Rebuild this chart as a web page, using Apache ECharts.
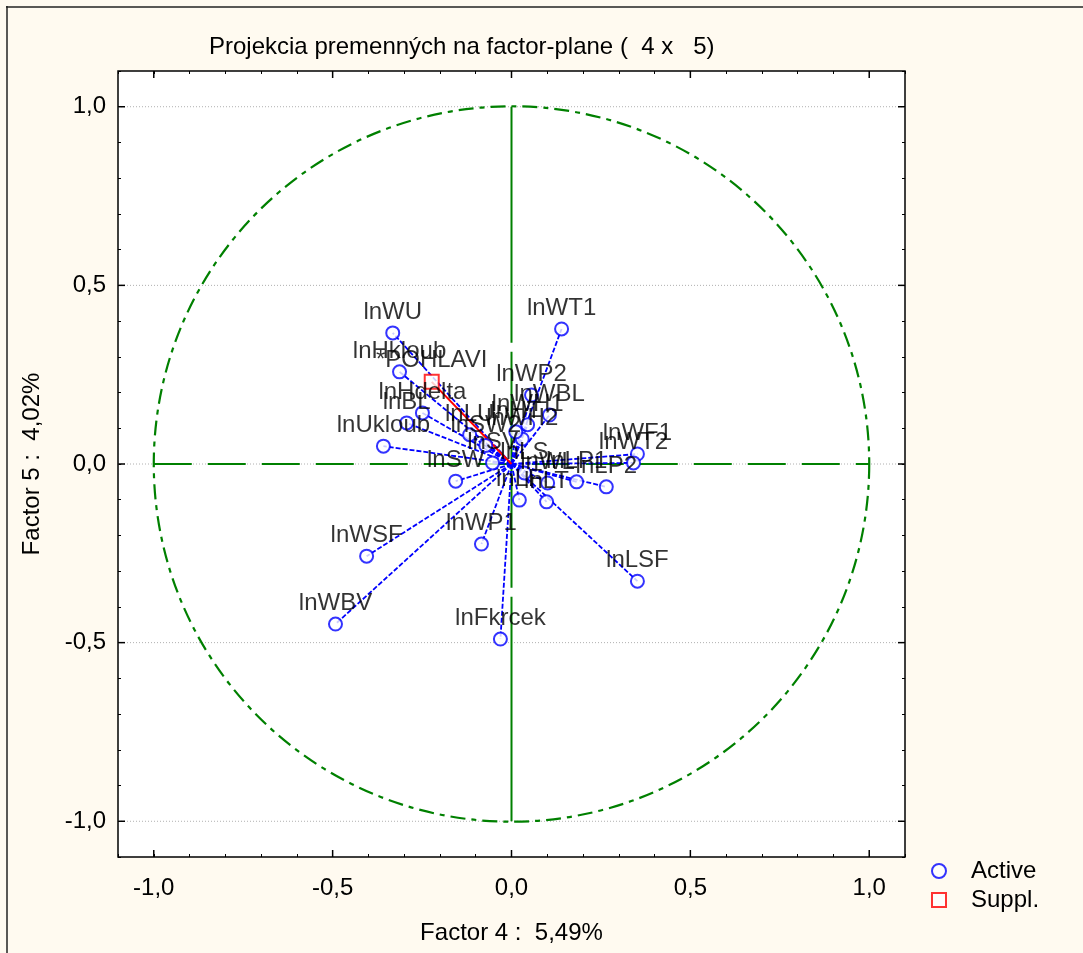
<!DOCTYPE html>
<html><head><meta charset="utf-8">
<script src="https://cdn.jsdelivr.net/npm/echarts@6/dist/echarts.min.js"></script>
<style>html,body{margin:0;padding:0;background:#fffaf0}#c{width:1083px;height:953px}</style>
</head><body><div id="c"></div>
<script>
// Active variables: loadings on Factor 4 (x) and Factor 5 (y)
const varNames = ['lnWU','lnHkloub','lnHdelta','lnBL','lnUkloub','lnLU','lnSW2','lnSW','lnSV',
  'lnWT1','lnWP2','lnWBL','lnWH1','lnWH2','lnHT','lnWF1','lnWT2','lnLS','lnWL','lnLP1','lnLP2',
  'lnLF','lnLT','lnWSF','lnWBV','lnWP1','lnFkrcek','lnLSF'];
const factor4 = [-0.332,-0.313,-0.249,-0.293,-0.358,-0.117,-0.072,-0.156,-0.053,
  0.140,0.056,0.106,0.045,0.030,0.012,0.352,0.341,0.036,0.101,0.182,0.265,
  0.022,0.098,-0.405,-0.492,-0.084,-0.031,0.352];
const factor5 = [0.367,0.258,0.143,0.115,0.050,0.082,0.052,-0.048,0.003,
  0.378,0.193,0.137,0.110,0.070,0.090,0.028,0.003,-0.025,-0.053,-0.050,-0.064,
  -0.101,-0.106,-0.258,-0.448,-0.224,-0.490,-0.328];
// Supplementary variables
const suppNames = ['*POHLAVI'];
const suppF4 = [-0.223];
const suppF5 = [0.230];
// Axis ticks
const majorTicks = [-1.0,-0.5,0.0,0.5,1.0];
const axisMin = -1.1, axisMax = 1.1, minorStep = 0.1;

const FONT = 'Liberation Sans, Arial, sans-serif';
const FS = 24;
const fmt = v => {
  if (Math.abs(v) < 1e-9) return '0,0';
  const isMajor = majorTicks.some(t => Math.abs(t - v) < 1e-6);
  return isMajor ? v.toFixed(1).replace('.', ',') : '';
};

const activeData = varNames.map((n,i)=>({name:n, value:[factor4[i], factor5[i]]}));
const suppData = suppNames.map((n,i)=>({name:n, value:[suppF4[i], suppF5[i]]}));
const activeVectors = varNames.map((n,i)=>({coords:[[0,0],[factor4[i],factor5[i]]]}));
const suppVectors = suppNames.map((n,i)=>({coords:[[0,0],[suppF4[i],suppF5[i]]]}));

const chart = echarts.init(document.getElementById('c'), null, {renderer:'canvas'});
const green = '#008000';
const minorTick = {inside:true, length:3, lineStyle:{color:'#000', width:1}};
chart.setOption({
  backgroundColor:'#fffaf0',
  animation:false,
  textStyle:{fontFamily:FONT},
  title:{text:'Projekcia premenných na factor-plane (  4 x   5)', left:204, top:30,
    textStyle:{fontFamily:FONT, fontSize:FS, fontWeight:'normal', color:'#000'}},
  graphic:[
    {type:'line', shape:{x1:6,y1:7,x2:1083,y2:7}, style:{stroke:'#222', lineWidth:1.5}},
    {type:'line', shape:{x1:7,y1:6,x2:7,y2:953}, style:{stroke:'#222', lineWidth:1.5}}
  ],
  legend:{orient:'vertical', left:926, top:854, itemWidth:14, itemHeight:14, itemGap:5,
    data:[{name:'Active', icon:'emptyCircle'},{name:'Suppl.', icon:'emptyRect'}],
    textStyle:{fontFamily:FONT, fontSize:FS, color:'#000', padding:[0,0,0,20]}},
  grid:{left:118, top:71, width:787, height:786, show:true, backgroundColor:'#fff',
    borderColor:'#000', borderWidth:1.5},
  xAxis:[{type:'value', min:axisMin, max:axisMax, interval:minorStep, position:'bottom',
      name:'Factor 4 :  5,49%', nameLocation:'middle', nameGap:64,
      nameTextStyle:{fontFamily:FONT, fontSize:FS, color:'#000'},
      axisLine:{show:false, onZero:false}, splitLine:{show:false},
      axisTick:minorTick,
      axisLabel:{formatter:fmt, margin:19, fontFamily:FONT, fontSize:FS, color:'#000', showMinLabel:true, showMaxLabel:true}},
    {type:'value', min:axisMin, max:axisMax, interval:minorStep, position:'top',
      axisLine:{show:false, onZero:false}, splitLine:{show:false}, axisLabel:{show:false},
      axisTick:minorTick}],
  yAxis:[{type:'value', min:axisMin, max:axisMax, interval:minorStep, position:'left',
      name:'Factor 5 :  4,02%', nameLocation:'middle', nameGap:74,
      nameTextStyle:{fontFamily:FONT, fontSize:FS, color:'#000'},
      axisLine:{show:false, onZero:false}, splitLine:{show:false},
      axisTick:minorTick,
      axisLabel:{formatter:fmt, margin:12, fontFamily:FONT, fontSize:FS, color:'#000'}},
    {type:'value', min:axisMin, max:axisMax, interval:minorStep, position:'right',
      axisLine:{show:false, onZero:false}, splitLine:{show:false}, axisLabel:{show:false},
      axisTick:minorTick}],
  series:[
    {type:'custom', name:'frame', silent:true, z:1, data:[[0,0]],
     renderItem:function(params, api){
       const ch = [];
       const o = api.coord([0,0]);
       const r = api.size([1,0])[0];
       const bl = api.coord([axisMin, axisMin]), tr = api.coord([axisMax, axisMax]);
       majorTicks.forEach(v=>{
         const a = api.coord([axisMin, v]), b = api.coord([axisMax, v]);
         ch.push({type:'line', shape:{x1:a[0],y1:a[1],x2:b[0],y2:b[1]}, style:{stroke:'#b0b0b0', lineWidth:1, lineDash:[1,2]}});
         const px = api.coord([v, 0])[0];
         ch.push({type:'line', shape:{x1:px,y1:bl[1],x2:px,y2:bl[1]-7}, style:{stroke:'#000', lineWidth:1.5}});
         ch.push({type:'line', shape:{x1:px,y1:tr[1],x2:px,y2:tr[1]+7}, style:{stroke:'#000', lineWidth:1.5}});
         ch.push({type:'line', shape:{x1:bl[0],y1:a[1],x2:bl[0]+7,y2:a[1]}, style:{stroke:'#000', lineWidth:1.5}});
         ch.push({type:'line', shape:{x1:tr[0],y1:a[1],x2:tr[0]-7,y2:a[1]}, style:{stroke:'#000', lineWidth:1.5}});
       });
       const hl = api.coord([-1,0]), hr = api.coord([1,0]);
       ch.push({type:'line', shape:{x1:hl[0],y1:hl[1],x2:hr[0],y2:hr[1]}, style:{stroke:green, lineWidth:2, lineDash:[38,16]}});
       const vt = api.coord([0,1]), vb = api.coord([0,-1]);
       ch.push({type:'line', shape:{x1:vt[0],y1:vt[1],x2:vb[0],y2:vb[1]}, style:{stroke:green, lineWidth:2, lineDash:[236,9]}});
       ch.push({type:'circle', shape:{cx:o[0], cy:o[1], r:r}, style:{fill:'none', stroke:green, lineWidth:2.2, lineDash:[15,6,5,6]}});
       return {type:'group', children:ch};
     }},
    {type:'lines', name:'activeVec', coordinateSystem:'cartesian2d', z:3, silent:true,
     data:activeVectors, lineStyle:{color:'#0000ff', width:1.8, type:[5,2], opacity:1}},
    {type:'lines', name:'suppVec', coordinateSystem:'cartesian2d', z:3, silent:true,
     data:suppVectors, lineStyle:{color:'#ff0000', width:2, type:'solid', opacity:1}},
    {type:'scatter', name:'Active', z:5, symbol:'emptyCircle', symbolSize:13, data:activeData,
     itemStyle:{color:'#0000ff', borderWidth:1.8},
     label:{show:true, position:'top', distance:1, formatter:p=>p.name, fontFamily:FONT, fontSize:FS, color:'#000'}},
    {type:'scatter', name:'Suppl.', z:5, symbol:'emptyRect', symbolSize:14, data:suppData,
     itemStyle:{color:'#ff0000', borderWidth:1.8},
     label:{show:true, position:'top', distance:1, formatter:p=>p.name, fontFamily:FONT, fontSize:FS, color:'#000'}}
  ]
});
</script></body></html>
